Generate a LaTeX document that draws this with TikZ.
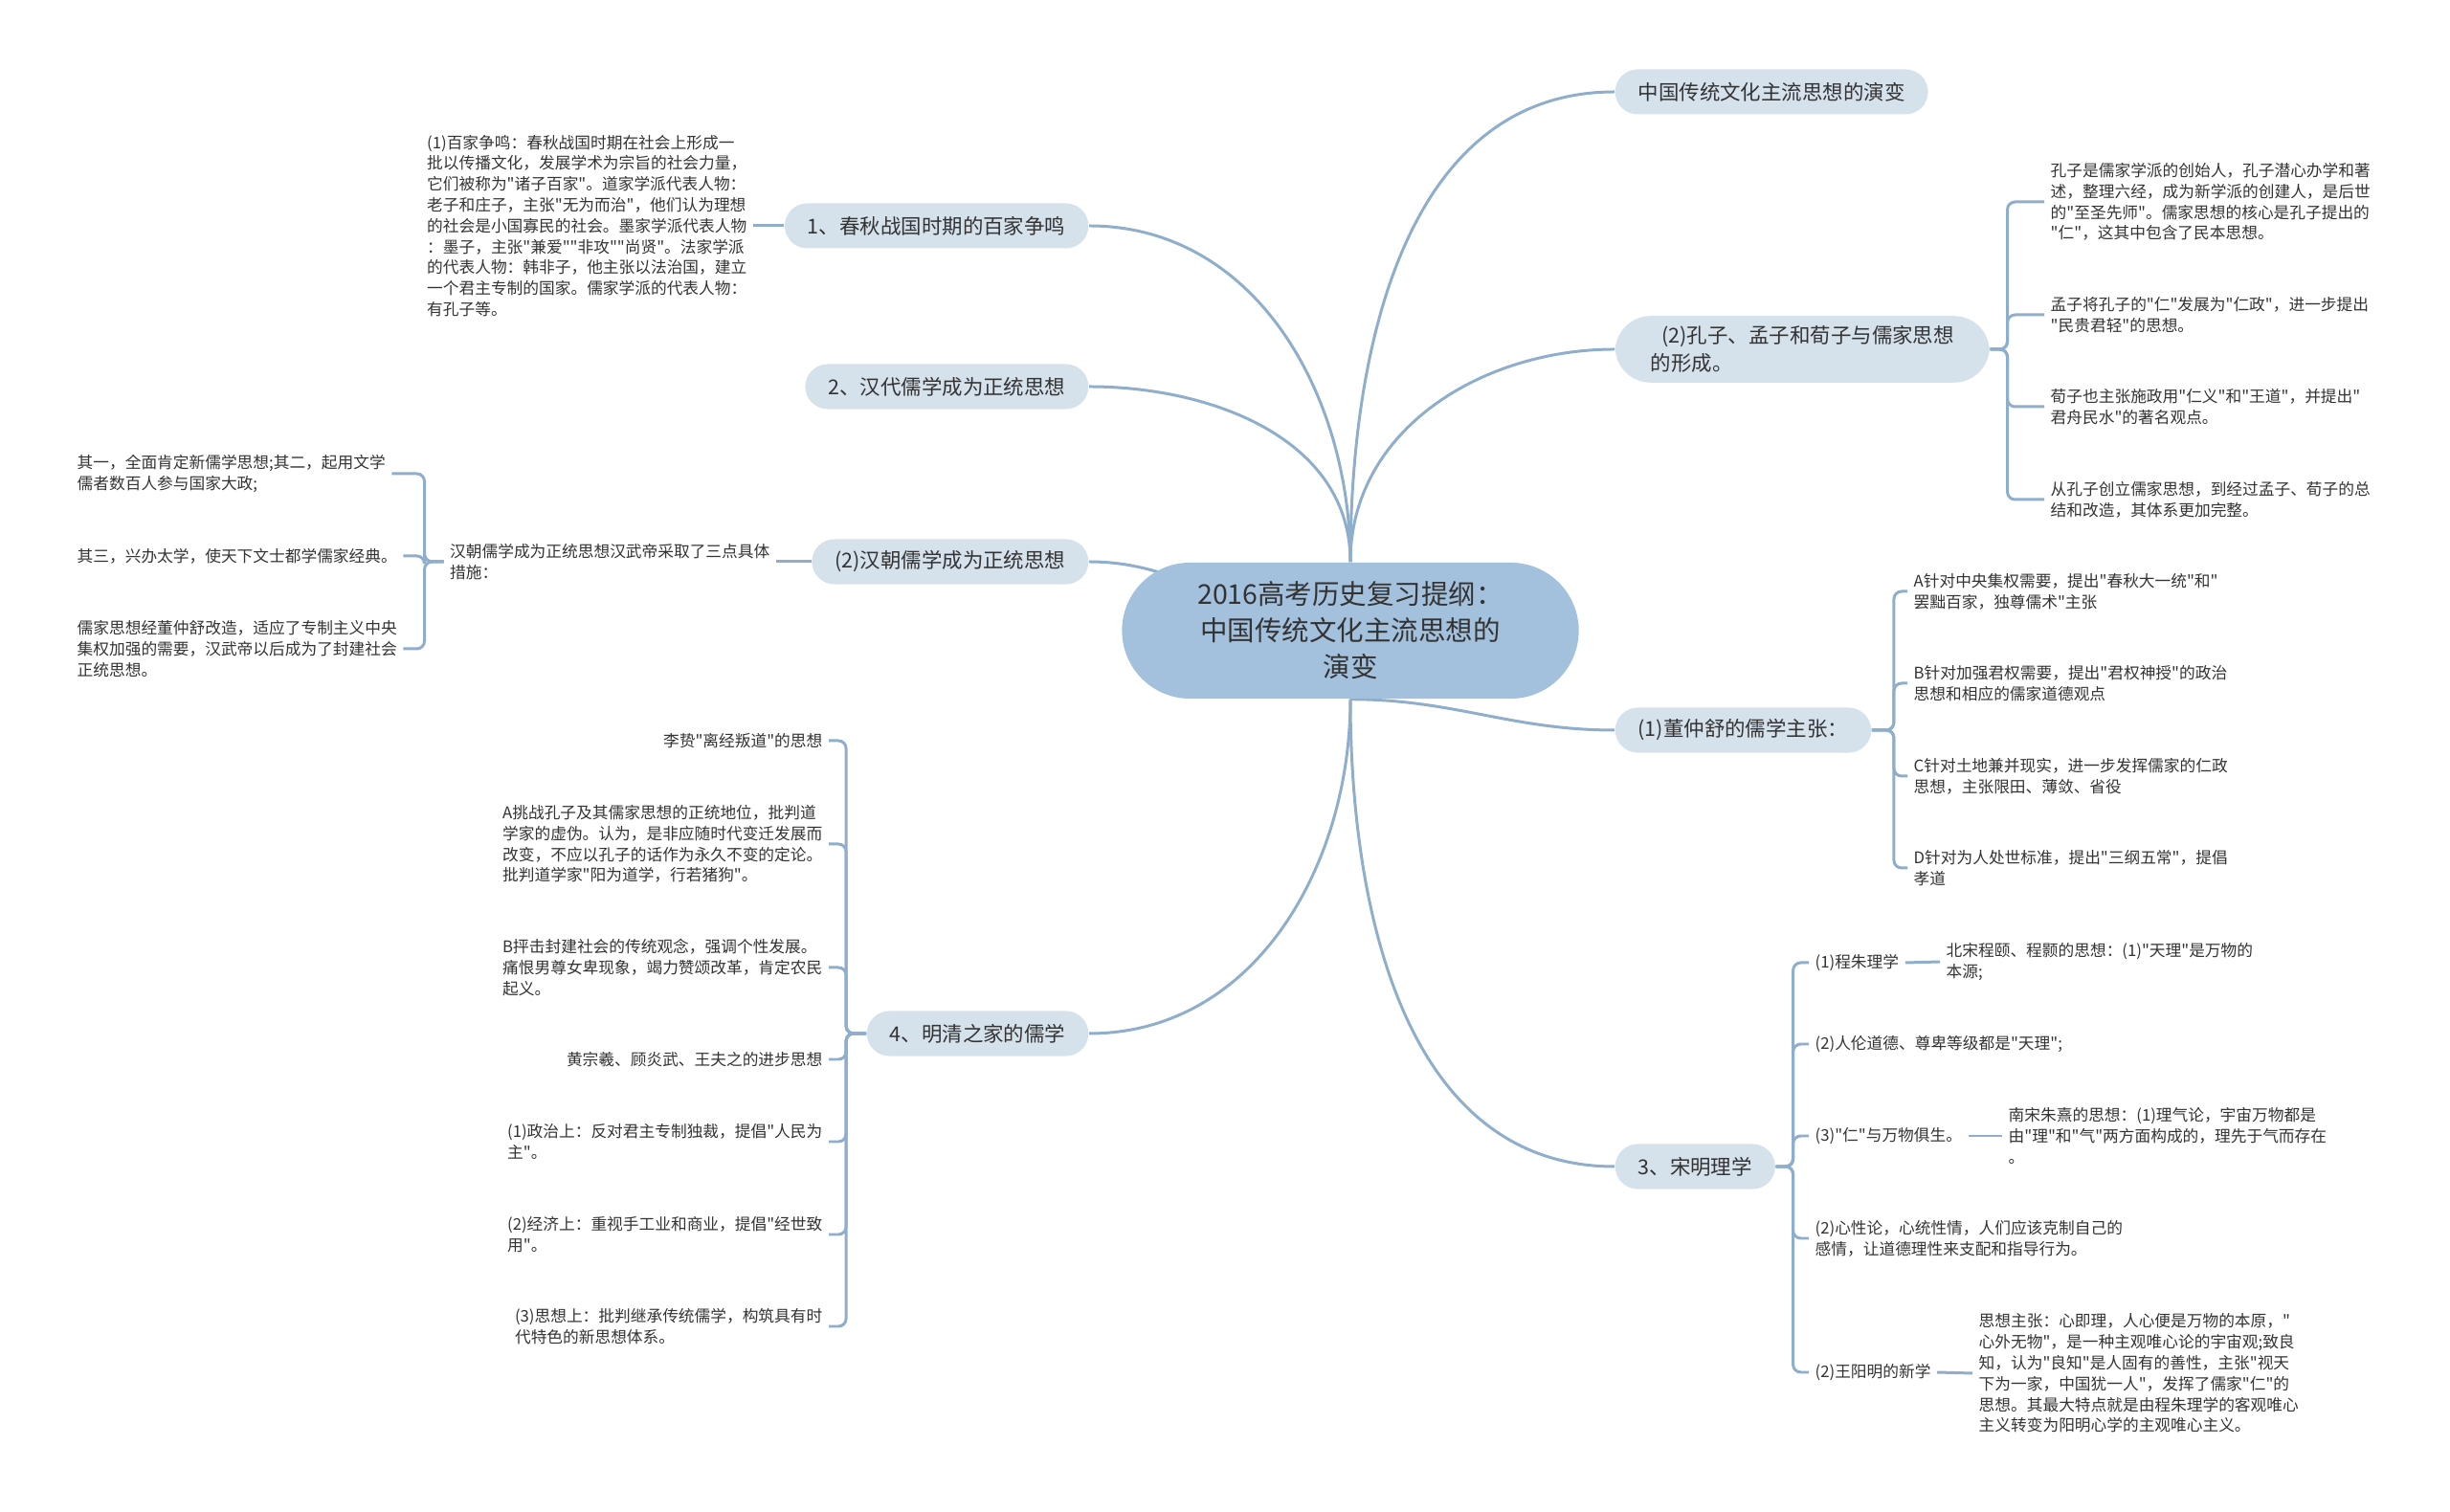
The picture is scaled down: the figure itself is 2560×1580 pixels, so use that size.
\documentclass[tikz,border=0pt]{standalone}
\usepackage{fontspec}
\setmainfont{Noto Sans CJK SC}[Ligatures=TeXOff]
\definecolor{SMLinea}{HTML}{8FAECC}
\definecolor{SMNodo}{HTML}{D5E1EB}
\definecolor{SMRaiz}{HTML}{A3C0DC}
\definecolor{SMTexto}{HTML}{333333}
\newcommand{\rootfont}{\fontsize{8.1pt}{10.8pt}\selectfont}
\newcommand{\topicfont}{\fontsize{6.1pt}{8.4pt}\selectfont}
\newcommand{\notefont}{\fontsize{4.75pt}{6.2pt}\selectfont}
\pgfdeclarelayer{bg}
\pgfsetlayers{bg,main}

\begin{document}
\begin{tikzpicture}[x=.01cm,y=-.01cm,text=SMTexto,
  link/.style={draw=SMLinea,line width=.85pt},
  brace/.style={link,rounded corners=.08cm},
  root/.style={fill=SMRaiz,rounded corners=.71cm,minimum width=4.77cm,minimum height=1.42cm,align=center,font=\rootfont,inner sep=0pt},
  topic/.style={fill=SMNodo,rounded corners=.235cm,minimum height=.47cm,inner xsep=.24cm,inner ysep=.1cm,align=left,font=\topicfont},
  note/.style={align=left,font=\notefont,inner xsep=.06cm,inner ysep=.02cm}]
\useasboundingbox (0,0) rectangle (2560,1580);
% centro
\node[root] (hub) at (1411,659) {2016高考历史复习提纲：\\中国传统文化主流思想的\\演变};
% ramas derecha
\node[topic,anchor=west] (r1) at (1687,96) {中国传统文化主流思想的演变};
\node[topic,anchor=west,rounded corners=.37cm,inner xsep=.37cm] (r2) at (1687,365) {\hspace*{.55em}(2)孔子、孟子和荀子与儒家思想\\的形成。};
\node[topic,anchor=west] (r3) at (1687,763) {(1)董仲舒的儒学主张：};
\node[topic,anchor=west] (r4) at (1687,1219) {3、宋明理学};
% ramas izquierda
\node[topic,anchor=east] (l1) at (1138,236) {1、春秋战国时期的百家争鸣};
\node[topic,anchor=east] (l2) at (1138,404) {2、汉代儒学成为正统思想};
\node[topic,anchor=east] (l3) at (1138,587) {(2)汉朝儒学成为正统思想};
\node[topic,anchor=east] (l4) at (1138,1080) {4、明清之家的儒学};
% 1、春秋战国
\node[note,anchor=east] (b1) at (787,236) {(1)百家争鸣：春秋战国时期在社会上形成一\\批以传播文化，发展学术为宗旨的社会力量，\\它们被称为"诸子百家"。道家学派代表人物：\\老子和庄子，主张"无为而治"，他们认为理想\\的社会是小国寡民的社会。墨家学派代表人物\\：墨子，主张"兼爱""非攻""尚贤"。法家学派\\的代表人物：韩非子，他主张以法治国，建立\\一个君主专制的国家。儒家学派的代表人物：\\有孔子等。};
% (2)汉朝
\node[note,anchor=east] (t3) at (811,587) {汉朝儒学成为正统思想汉武帝采取了三点具体\\措施：};
\node[note,anchor=west] (c1) at (74,495) {其一，全面肯定新儒学思想;其二，起用文学\\儒者数百人参与国家大政;};
\node[note,anchor=west] (c2) at (74,581) {其三，兴办太学，使天下文士都学儒家经典。};
\node[note,anchor=west] (c3) at (74,678) {儒家思想经董仲舒改造，适应了专制主义中央\\集权加强的需要，汉武帝以后成为了封建社会\\正统思想。};
% 4、明清
\node[note,anchor=east] (d1) at (866,774) {李贽"离经叛道"的思想};
\node[note,anchor=east] (d2) at (866,882) {A挑战孔子及其儒家思想的正统地位，批判道\\学家的虚伪。认为，是非应随时代变迁发展而\\改变，不应以孔子的话作为永久不变的定论。\\批判道学家"阳为道学，行若猪狗"。};
\node[note,anchor=east] (d3) at (866,1011) {B抨击封建社会的传统观念，强调个性发展。\\痛恨男尊女卑现象，竭力赞颂改革，肯定农民\\起义。};
\node[note,anchor=east] (d4) at (866,1107) {黄宗羲、顾炎武、王夫之的进步思想};
\node[note,anchor=east] (d5) at (866,1193) {(1)政治上：反对君主专制独裁，提倡"人民为\\主"。};
\node[note,anchor=east] (d6) at (866,1290) {(2)经济上：重视手工业和商业，提倡"经世致\\用"。};
\node[note,anchor=east] (d7) at (866,1386) {(3)思想上：批判继承传统儒学，构筑具有时\\代特色的新思想体系。};
% (2)孔子、孟子和荀子
\node[note,anchor=west] (e1) at (2136,211) {孔子是儒家学派的创始人，孔子潜心办学和著\\述，整理六经，成为新学派的创建人，是后世\\的"至圣先师"。儒家思想的核心是孔子提出的\\"仁"，这其中包含了民本思想。};
\node[note,anchor=west] (e2) at (2136,329) {孟子将孔子的"仁"发展为"仁政"，进一步提出\\"民贵君轻"的思想。};
\node[note,anchor=west] (e3) at (2136,425) {荀子也主张施政用"仁义"和"王道"，并提出"\\君舟民水"的著名观点。};
\node[note,anchor=west] (e4) at (2136,522) {从孔子创立儒家思想，到经过孟子、荀子的总\\结和改造，其体系更加完整。};
% (1)董仲舒
\node[note,anchor=west] (f1) at (1993,618) {A针对中央集权需要，提出"春秋大一统"和"\\罢黜百家，独尊儒术"主张};
\node[note,anchor=west] (f2) at (1993,714) {B针对加强君权需要，提出"君权神授"的政治\\思想和相应的儒家道德观点};
\node[note,anchor=west] (f3) at (1993,811) {C针对土地兼并现实，进一步发挥儒家的仁政\\思想，主张限田、薄敛、省役};
\node[note,anchor=west] (f4) at (1993,907) {D针对为人处世标准，提出"三纲五常"，提倡\\孝道};
% 3、宋明理学
\node[note,anchor=west] (g1) at (1890,1006) {(1)程朱理学};
\node[note,anchor=west] (g2) at (1890,1091) {(2)人伦道德、尊卑等级都是"天理";};
\node[note,anchor=west] (g3) at (1890,1187) {(3)"仁"与万物俱生。};
\node[note,anchor=west] (g4) at (1890,1294) {(2)心性论，心统性情，人们应该克制自己的\\感情，让道德理性来支配和指导行为。};
\node[note,anchor=west] (g5) at (1890,1434) {(2)王阳明的新学};
\node[note,anchor=west] (h1) at (2027,1005) {北宋程颐、程颢的思想：(1)"天理"是万物的\\本源;};
\node[note,anchor=west] (h3) at (2092,1187) {南宋朱熹的思想：(1)理气论，宇宙万物都是\\由"理"和"气"两方面构成的，理先于气而存在\\。};
\node[note,anchor=west] (h5) at (2061,1435) {思想主张：心即理，人心便是万物的本原，"\\心外无物"，是一种主观唯心论的宇宙观;致良\\知，认为"良知"是人固有的善性，主张"视天\\下为一家，中国犹一人"，发挥了儒家"仁"的\\思想。其最大特点就是由程朱理学的客观唯心\\主义转变为阳明心学的主观唯心主义。};
% conectores
\begin{pgfonlayer}{bg}
\draw[link] (hub.north) to[out=90,in=180] (r1.west);
\draw[link] (hub.north) to[out=90,in=180] (r2.west);
\draw[link] (hub.south) to[out=0,in=180] (r3.west);
\draw[link] (hub.south) to[out=-90,in=180] (r4.west);
\draw[link] (hub.north) to[out=90,in=0] (l1.east);
\draw[link] (hub.north) to[out=90,in=0] (l2.east);
\draw[link] (hub.center) to[out=180,in=0] (l3.east);
\draw[link] (hub.south) to[out=-90,in=0] (l4.east);
\draw[link] (l1.west) -- (b1.east);
\draw[link] (l3.west) -- (t3.east);
\foreach \c in {c1,c2,c3} \draw[brace] (t3.west) -- ++(-20,0) |- (\c.east);
\foreach \c in {d1,d2,d3,d4,d5,d6,d7} \draw[brace] (l4.west) -- ++(-21,0) |- (\c.east);
\foreach \c in {e1,e2,e3,e4} \draw[brace] (r2.east) -- ++(18,0) |- (\c.west);
\foreach \c in {f1,f2,f3,f4} \draw[brace] (r3.east) -- ++(23,0) |- (\c.west);
\foreach \c in {g1,g2,g3,g4,g5} \draw[brace] (r4.east) -- ++(18,0) |- (\c.west);
\draw[link] (g1.east) -- (h1.west);
\draw[link] (g3.east) -- (h3.west);
\draw[link] (g5.east) -- (h5.west);
\end{pgfonlayer}
\end{tikzpicture}
\end{document}
